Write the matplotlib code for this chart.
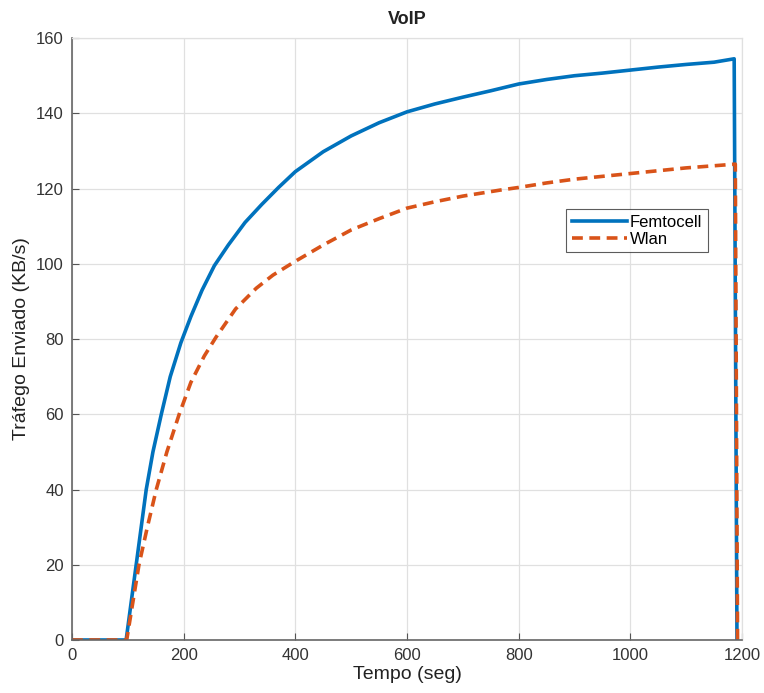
import matplotlib
matplotlib.use("Agg")
import matplotlib.pyplot as plt

femto_x = [0, 97, 106, 115, 124, 133, 145, 160, 176, 195, 213, 233, 255, 280, 310, 340, 370, 400, 450, 500, 550, 600, 650, 700, 750, 800, 850, 900, 950, 1000, 1050, 1100, 1150, 1186, 1191]
femto_y = [0, 0, 10, 20, 30, 40, 50, 60, 70, 79, 86, 93, 99.5, 105, 111, 115.8, 120.3, 124.5, 129.8, 134, 137.5, 140.4, 142.5, 144.3, 146, 147.8, 149, 150, 150.7, 151.5, 152.3, 153, 153.6, 154.5, 0]
wlan_x = [0, 98, 109, 120, 135, 151, 170, 192, 213, 237, 258, 293, 330, 360, 398, 450, 500, 550, 600, 650, 700, 767, 800, 850, 900, 1000, 1100, 1188, 1192]
wlan_y = [0, 0, 10, 20, 30, 40, 50, 60, 68.5, 75.5, 80.5, 88, 93.5, 97, 100.5, 105, 109, 112, 114.8, 116.5, 118, 119.6, 120.3, 121.5, 122.5, 124, 125.5, 126.5, 0]
xticks = [0, 200, 400, 600, 800, 1000, 1200]
yticks = [0, 20, 40, 60, 80, 100, 120, 140, 160]

plt.rcParams['font.family'] = ['Liberation Sans', 'DejaVu Sans']
fig = plt.figure(figsize=(7.64, 6.93), dpi=100)
ax = fig.add_axes([0.0942, 0.0765, 0.877, 0.8685])
ax.plot(femto_x, femto_y, color='#0072BD', lw=2.6, label='Femtocell')
ax.plot(wlan_x, wlan_y, color='#D95319', lw=2.6, ls=(0, (3, 1.8)), label='Wlan')
ax.set_xlim(0, 1200)
ax.set_ylim(0, 160)
ax.set_xticks(xticks)
ax.set_yticks(yticks)
ax.grid(True, color='#e0e0e0', lw=0.9)
ax.set_axisbelow(True)
for s in ['left', 'bottom']:
    ax.spines[s].set_color('#666666')
    ax.spines[s].set_linewidth(1.2)
for s in ['top', 'right']:
    ax.spines[s].set_color('#e0e0e0')
    ax.spines[s].set_linewidth(0.9)
ax.tick_params(direction='in', length=5, color='#555555', labelsize=12, labelcolor='#333333', pad=6)
ax.set_xlabel('Tempo (seg)', fontsize=14, color='#222222', labelpad=2)
ax.set_ylabel('Tráfego Enviado (KB/s)', fontsize=14, color='#222222', labelpad=4)
ax.set_title('VoIP', fontsize=13, fontweight='bold', color='#222222', pad=10)
leg = ax.legend(loc='upper left', bbox_to_anchor=(0.737, 0.716), fontsize=12, frameon=True,
                fancybox=False, edgecolor='#333333', handlelength=3.3, borderpad=0.35,
                labelspacing=0.1, handletextpad=0.2, borderaxespad=0)
leg.get_frame().set_linewidth(0.8)
fig.savefig('out.png', dpi=100, facecolor='white')
